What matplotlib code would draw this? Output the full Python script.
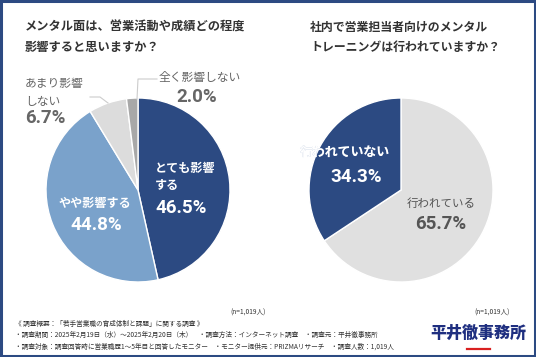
import matplotlib.pyplot as plt
from matplotlib.patches import Rectangle

plt.rcParams['font.family'] = ['Noto Sans CJK JP', 'DejaVu Sans']

# 左: メンタル面の影響
left_labels = ['とても影響する', 'やや影響する', 'あまり影響しない', '全く影響しない']
left_values = [46.5, 44.8, 6.7, 2.0]
left_colors = ['#2c4a82', '#7aa2cb', '#dcdcdc', '#a8a8a8']

# 右: メンタルトレーニング実施
right_labels = ['行われている', '行われていない']
right_values = [65.7, 34.3]
right_colors = ['#e0e0e0', '#2c4a82']

W, H = 536, 357
fig = plt.figure(figsize=(W / 100, H / 100), dpi=100)
ax = fig.add_axes([0, 0, 1, 1])

def Y(y):
    return H - y

ax.pie(left_values, colors=left_colors, startangle=90, counterclock=False,
       center=(138, Y(190)), radius=92, wedgeprops=dict(edgecolor='white', linewidth=1))
rw, _ = ax.pie(right_values, colors=right_colors, startangle=90, counterclock=False,
               center=(401, Y(190)), radius=92, wedgeprops=dict(edgecolor='white', linewidth=1))
ax.set_xlim(0, W)
ax.set_ylim(0, H)
ax.set_aspect('auto')
ax.axis('off')

# 枠
ax.add_patch(Rectangle((1, 1), W - 2, H - 2, fill=False, edgecolor='#2c4a82', linewidth=2.2))

dark = '#333333'
gray = '#666666'
pct = dict(fontfamily=['Roboto', 'DejaVu Sans'], fontweight='bold', fontsize=13.5)

# タイトル
ax.text(25, Y(27), 'メンタル面は、営業活動や成績どの程度', fontsize=8.8, color=dark, va='center', fontweight='bold')
ax.text(25, Y(47), '影響すると思いますか？', fontsize=8.8, color=dark, va='center', fontweight='bold')
ax.text(310, Y(27), '社内で営業担当者向けのメンタル', fontsize=8.6, color=dark, va='center', fontweight='bold')
ax.text(310, Y(47), 'トレーニングは行われていますか？', fontsize=8.6, color=dark, va='center', fontweight='bold')

# 左の円のラベル
ax.text(155, Y(177), 'とても影響\nする', fontsize=8.7, color='white', va='center', linespacing=1.45, fontweight='bold')
ax.text(155, Y(208), f'{left_values[0]}%', color='white', va='center', **pct)
ax.text(95, Y(203), 'やや影響する', fontsize=8.7, color='white', va='center', ha='center', fontweight='bold')
ax.text(96, Y(225), f'{left_values[1]}%', color='white', va='center', ha='center', **pct)
ax.text(25, Y(92), 'あまり影響\nしない', fontsize=8.5, color=gray, va='center', linespacing=1.5)
ax.text(25, Y(118), f'{left_values[2]}%', color=gray, va='center', **pct)
ax.text(200, Y(78), '全く影響しない', fontsize=8.5, color=gray, va='center', ha='center')
ax.text(197, Y(97), f'{left_values[3]}%', color=gray, va='center', ha='center', **pct)

# 引き出し線
ax.plot([90, 100, 108], [Y(97), Y(97), Y(103)], color='#cccccc', lw=0.8)
ax.plot([137, 138, 157], [Y(99), Y(79), Y(79)], color='#cccccc', lw=0.8)

# 右の円のラベル(はみ出した部分は薄い色)
ax.text(345, Y(152), right_labels[1], fontsize=9.3, color='#aebdd6', va='center', ha='center', fontweight='bold')
t = ax.text(345, Y(152), right_labels[1], fontsize=9.3, color='white', va='center', ha='center', fontweight='bold')
t.set_clip_path(rw[1])
ax.text(356, Y(177), f'{right_values[1]}%', color='white', va='center', ha='center', **pct)
ax.text(441, Y(203), right_labels[0], fontsize=8.3, color='#555555', va='center', ha='center')
ax.text(441, Y(224), f'{right_values[0]}%', color='#555555', va='center', ha='center', **pct)

# 注記
ax.text(248, Y(313), '(n=1,019人)', fontsize=4.8, color=dark, va='center', ha='center')
ax.text(492, Y(313), '(n=1,019人)', fontsize=4.8, color=dark, va='center', ha='center')
ax.text(15, Y(324), '《 調査概要：「若手営業職の育成体制と課題」に関する調査 》', fontsize=4.8, color=dark, va='center')
ax.text(15, Y(335), '・調査期間：2025年2月19日（水）～2025年2月20日（木）　・調査方法：インターネット調査　・調査元：平井徹事務所',
        fontsize=4.8, color=dark, va='center')
ax.text(15, Y(347), '・調査対象：調査回答時に営業職歴1～5年目と回答したモニター　・モニター提供元：PRIZMAリサーチ　・調査人数：1,019人',
        fontsize=4.8, color=dark, va='center')

# ロゴ
ax.text(478, Y(333), '平井徹事務所', fontsize=11.5, color='#1f2f80', va='center', ha='center', fontweight='black')
ax.plot([467, 490], [Y(349), Y(349)], color='#d92020', lw=1.6)

fig.savefig('out.png', dpi=100)
